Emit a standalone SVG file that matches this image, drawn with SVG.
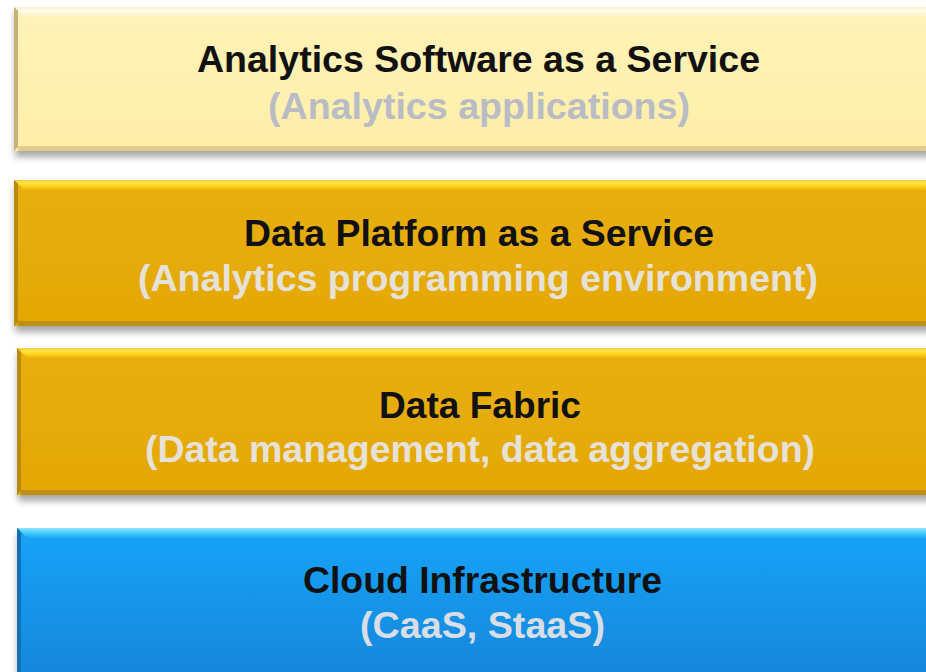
<svg xmlns="http://www.w3.org/2000/svg" width="926" height="672" viewBox="0 0 926 672">
<defs>
<filter id="sh" x="-5%" y="-10%" width="115%" height="130%">
<feDropShadow dx="1" dy="6" stdDeviation="3.5" flood-color="#000" flood-opacity="0.35"/>
</filter>
<linearGradient id="g1" x1="0" y1="0" x2="0" y2="1">
<stop offset="0" stop-color="#FFF3B8"/><stop offset="1" stop-color="#FDEEA8"/>
</linearGradient>
<linearGradient id="g1t" x1="0" y1="0" x2="0" y2="1">
<stop offset="0" stop-color="#FBEFC8"/><stop offset="0.4" stop-color="#FFFDF0"/><stop offset="1" stop-color="#FFF4BE"/>
</linearGradient>
<linearGradient id="g2" x1="0" y1="0" x2="0" y2="1">
<stop offset="0" stop-color="#E8AE08"/><stop offset="1" stop-color="#E4A806"/>
</linearGradient>
<linearGradient id="g2t" x1="0" y1="0" x2="0" y2="1">
<stop offset="0" stop-color="#F2CC60"/><stop offset="0.35" stop-color="#FFE62E"/><stop offset="1" stop-color="#EDB40A"/>
</linearGradient>
<linearGradient id="g4" x1="0" y1="0" x2="0" y2="1">
<stop offset="0" stop-color="#18A4F8"/><stop offset="1" stop-color="#1784D8"/>
</linearGradient>
<linearGradient id="g4t" x1="0" y1="0" x2="0" y2="1">
<stop offset="0" stop-color="#9EDDF8"/><stop offset="0.35" stop-color="#4ED8FF"/><stop offset="1" stop-color="#1AA6F6"/>
</linearGradient>
</defs>
<style>
.t{font-family:"Liberation Sans",Arial,sans-serif;font-weight:bold;font-size:37px;text-anchor:middle;fill:#111}
.s{font-family:"Liberation Sans",Arial,sans-serif;font-weight:bold;font-size:37px;text-anchor:middle}
</style>
<rect width="926" height="672" fill="#fff"/>
<g id="node-saas">
<rect x="14" y="7" width="930" height="144" fill="url(#g1)" filter="url(#sh)"/>
<polygon points="14,7 930,7 930,16 23,16" fill="url(#g1t)"/>
<polygon points="14,7 18,11 18,147 14,151" fill="#C9B17A"/>
<rect x="18" y="146" width="912" height="5" fill="#E2CB8C"/>
<text class="t" x="478.5" y="72" textLength="563" lengthAdjust="spacingAndGlyphs">Analytics Software as a Service</text>
<text class="s" x="479" y="119" fill="#B9BCC5" textLength="422" lengthAdjust="spacingAndGlyphs">(Analytics applications)</text>
</g>
<g id="node-dpaas">
<rect x="14" y="180" width="930" height="146" fill="url(#g2)" filter="url(#sh)"/>
<polygon points="14,180 930,180 930,190 24,190" fill="url(#g2t)"/>
<polygon points="14,180 18,184 18,322 14,326" fill="#B98A0E"/>
<rect x="18" y="321" width="912" height="5" fill="#BE8F12"/>
<text class="t" x="479" y="246" textLength="470" lengthAdjust="spacingAndGlyphs">Data Platform as a Service</text>
<text class="s" x="478" y="291" fill="#E6E2D8" textLength="680" lengthAdjust="spacingAndGlyphs">(Analytics programming environment)</text>
</g>
<g id="node-fabric">
<rect x="17" y="348" width="930" height="147" fill="url(#g2)" filter="url(#sh)"/>
<polygon points="17,348 930,348 930,358 27,358" fill="url(#g2t)"/>
<polygon points="17,348 21,352 21,491 17,495" fill="#B98A0E"/>
<rect x="21" y="490" width="912" height="5" fill="#BE8F12"/>
<text class="t" x="480" y="418" textLength="202" lengthAdjust="spacingAndGlyphs">Data Fabric</text>
<text class="s" x="480" y="462" fill="#E6E2D8" textLength="670" lengthAdjust="spacingAndGlyphs">(Data management, data aggregation)</text>
</g>
<g id="node-cloud">
<rect x="17" y="528" width="930" height="160" fill="url(#g4)" filter="url(#sh)"/>
<polygon points="17,528 930,528 930,538 27,538" fill="url(#g4t)"/>
<polygon points="17,528 21,532 21,672 17,672" fill="#1470B4"/>
<text class="t" x="482.5" y="593" textLength="359" lengthAdjust="spacingAndGlyphs">Cloud Infrastructure</text>
<text class="s" x="482.5" y="638" fill="#D9DEE6" textLength="245" lengthAdjust="spacingAndGlyphs">(CaaS, StaaS)</text>
</g>
<g id="connectors"/>
</svg>
